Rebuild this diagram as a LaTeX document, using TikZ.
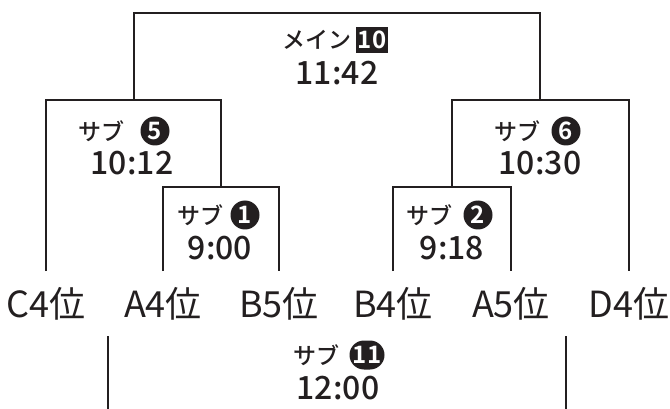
\documentclass[tikz,border=0pt]{standalone}
\usepackage{fontspec}
\setmainfont{Noto Sans CJK JP}[UprightFont=* Medium, BoldFont=* Bold]
\newfontfamily\teamfont{Noto Sans CJK JP}
\definecolor{ink}{HTML}{231F20}
\tikzset{
  link/.style={draw=ink, line width=2pt},
  jp/.style={font=\fontsize{23}{23}\selectfont, text=ink, inner sep=0},
  clock/.style={font=\fontsize{32}{32}\selectfont, text=ink, inner sep=0, anchor=base},
  team/.style={font=\teamfont\fontsize{36}{36}\selectfont, text=ink, inner sep=0, anchor=base},
  badge/.style={circle, fill=ink, text=white, inner sep=0, minimum size=29pt, font=\fontsize{24}{24}\selectfont\bfseries},
  wbadge/.style={rounded corners=14.5pt, fill=ink, text=white, inner sep=0, minimum width=35pt, minimum height=29pt, font=\fontsize{24}{24}\selectfont\bfseries},
  sqbadge/.style={rectangle, fill=ink, text=white, inner sep=0, minimum width=32pt, minimum height=26pt, font=\fontsize{24}{24}\selectfont\bfseries},
}
\begin{document}
\begin{tikzpicture}[x=1pt,y=-1pt]
\useasboundingbox (0,0) rectangle (670,409);
% teams
\node[team] (c4) at (46,317) {C4位};
\node[team] (a4) at (163,317) {A4位};
\node[team] (b5) at (279,317) {B5位};
\node[team] (b4) at (393,317) {B4位};
\node[team] (a5) at (511,317) {A5位};
\node[team] (d4) at (629,317) {D4位};
% line ends above teams
\coordinate (c4e) at (46,271);
\coordinate (a4e) at (163,271);
\coordinate (b5e) at (279,271);
\coordinate (b4e) at (393,271);
\coordinate (a5e) at (511,271);
\coordinate (d4e) at (629,271);
% match tops
\coordinate (m1) at (221,187);
\coordinate (m2) at (452,187);
\coordinate (m5) at (134,100);
\coordinate (m6) at (540,100);
\coordinate (m10) at (337,13);
% brackets
\draw[link] (a4e) |- (m1) -| (b5e);
\draw[link] (b4e) |- (m2) -| (a5e);
\draw[link] (c4e) |- (m5) -| (m1);
\draw[link] (m2) |- (m6) -| (d4e);
\draw[link] (m5) |- (m10) -| (m6);
% bottom lines
\coordinate (l11a) at (108,336);
\coordinate (l11b) at (108,409);
\coordinate (r11a) at (566,336);
\coordinate (r11b) at (566,409);
\draw[link] (l11a) -- (l11b);
\draw[link] (r11a) -- (r11b);
% labels
\node[jp] (m10t) at (317,40) {メイン};
\node[sqbadge] (m10b) at (372,40) {10};
\node[clock] (m10c) at (337,85) {11:42};
\node[jp] (s5t) at (101,131) {サブ};
\node[badge] (s5b) at (155,131) {5};
\node[clock] (s5c) at (132,175) {10:12};
\node[jp] (s6t) at (517,131) {サブ};
\node[badge] (s6b) at (566,131) {6};
\node[clock] (s6c) at (540,175) {10:30};
\node[jp] (s1t) at (200,215) {サブ};
\node[badge] (s1b) at (245,215) {1};
\node[clock] (s1c) at (220,259) {9:00};
\node[jp] (s2t) at (429,215) {サブ};
\node[badge] (s2b) at (478,215) {2};
\node[clock] (s2c) at (452,259) {9:18};
\node[jp] (s11t) at (316,355) {サブ};
\node[wbadge] (s11b) at (367,355) {11};
\node[clock] (s11c) at (338,399) {12:00};
\end{tikzpicture}
\end{document}
